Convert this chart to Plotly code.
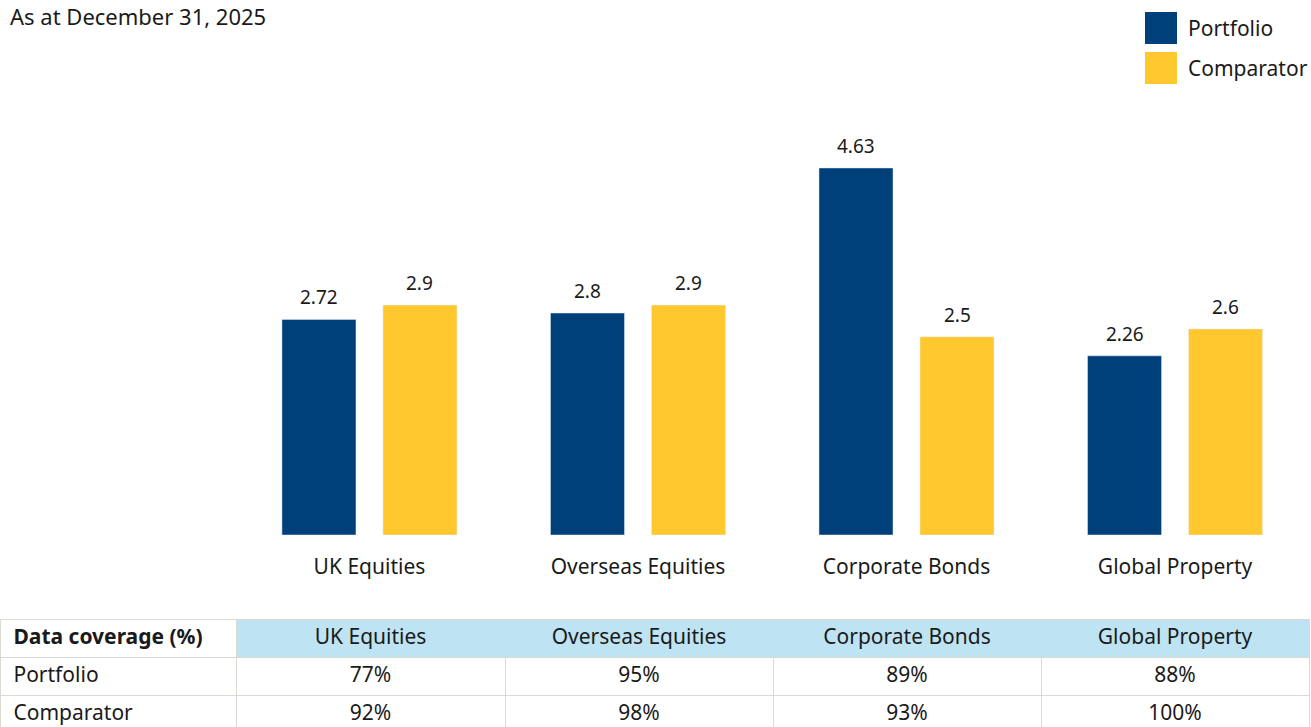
import plotly.graph_objects as go

categories = ["UK Equities", "Overseas Equities", "Corporate Bonds", "Global Property"]
portfolio = [2.72, 2.8, 4.63, 2.26]
comparator = [2.9, 2.9, 2.5, 2.6]
portfolio_labels = ["2.72", "2.8", "4.63", "2.26"]
comparator_labels = ["2.9", "2.9", "2.5", "2.6"]

table_header = ["Data coverage (%)"] + categories
row_names = ["Portfolio", "Comparator"]
coverage_portfolio = ["77%", "95%", "89%", "88%"]
coverage_comparator = ["92%", "98%", "93%", "100%"]

NAVY = "#00407a"
YELLOW = "#ffc82e"
LIGHTBLUE = "#bee3f3"
GRID = "#dcd8d2"
TXT = "#1a1a1a"
FONT = "Noto Sans"
PAD = "\u00a0"

fig = go.Figure()
fig.add_trace(go.Bar(x=categories, y=portfolio, name="Portfolio", marker_color=NAVY,
                     showlegend=False, hoverinfo="x+y"))
fig.add_trace(go.Bar(x=categories, y=comparator, name="Comparator", marker_color=YELLOW,
                     showlegend=False, hoverinfo="x+y"))

# value labels above bars
annotations = []
for cat, val, lab in zip(categories, portfolio, portfolio_labels):
    annotations.append(dict(x=cat, y=val, text=lab, xref="x", yref="y", showarrow=False,
                            xshift=-50.5, yshift=22, yanchor="middle",
                            font=dict(family=FONT, size=19, color=TXT)))
for cat, val, lab in zip(categories, comparator, comparator_labels):
    annotations.append(dict(x=cat, y=val, text=lab, xref="x", yref="y", showarrow=False,
                            xshift=50.5, yshift=22, yanchor="middle",
                            font=dict(family=FONT, size=19, color=TXT)))

cells_values = [[PAD + r for r in row_names]] + [[p, c] for p, c in zip(coverage_portfolio, coverage_comparator)]
fig.add_trace(go.Table(
    domain=dict(x=[0, 0.9987], y=[0, 0.1472]),
    columnwidth=[236, 269, 268, 268, 268],
    header=dict(values=[PAD + table_header[0]] + table_header[1:], height=38,
                fill=dict(color=["white", LIGHTBLUE, LIGHTBLUE, LIGHTBLUE, LIGHTBLUE]),
                line=dict(color=GRID, width=1),
                align=["left", "center", "center", "center", "center"],
                font=dict(family=FONT, size=21, color=TXT,
                          weight=["bold", "normal", "normal", "normal", "normal"])),
    cells=dict(values=cells_values, height=38,
               fill=dict(color="white"),
               line=dict(color=GRID, width=1),
               align=["left", "center", "center", "center", "center"],
               font=dict(family=FONT, size=21, color=TXT)),
))

annotations += [
    dict(text="As at December 31, 2025", x=0.006, y=1 - 16 / 727, xref="paper", yref="paper",
         xanchor="left", yanchor="middle", showarrow=False,
         font=dict(family=FONT, size=22, color=TXT)),
    dict(text="Portfolio", x=1186 / 1311, y=1 - 28 / 727, xref="paper", yref="paper",
         xanchor="left", yanchor="middle", showarrow=False,
         font=dict(family=FONT, size=21, color=TXT)),
    dict(text="Comparator", x=1186 / 1311, y=1 - 68 / 727, xref="paper", yref="paper",
         xanchor="left", yanchor="middle", showarrow=False,
         font=dict(family=FONT, size=21, color=TXT)),
]

fig.update_layout(
    width=1311, height=727,
    margin=dict(l=0, r=0, t=0, b=0),
    paper_bgcolor="white", plot_bgcolor="white",
    barmode="group", bargap=0.2477, bargroupgap=0.267,
    font=dict(family=FONT, size=21, color=TXT),
    xaxis=dict(domain=[0.1794, 0.9987], showgrid=False, showline=False, zeroline=False,
               ticks="outside", ticklen=13, tickcolor="rgba(0,0,0,0)",
               tickfont=dict(family=FONT, size=21, color=TXT)),
    yaxis=dict(domain=[0.2641, 0.89], range=[0, 5.74], visible=False),
    annotations=annotations,
    shapes=[
        dict(type="rect", xref="paper", yref="paper", x0=1145 / 1311, x1=1177 / 1311,
             y0=1 - 44 / 727, y1=1 - 12 / 727, fillcolor=NAVY, line_width=0),
        dict(type="rect", xref="paper", yref="paper", x0=1145 / 1311, x1=1177 / 1311,
             y0=1 - 84 / 727, y1=1 - 52 / 727, fillcolor=YELLOW, line_width=0),
    ],
)

fig.write_html("out.html")
